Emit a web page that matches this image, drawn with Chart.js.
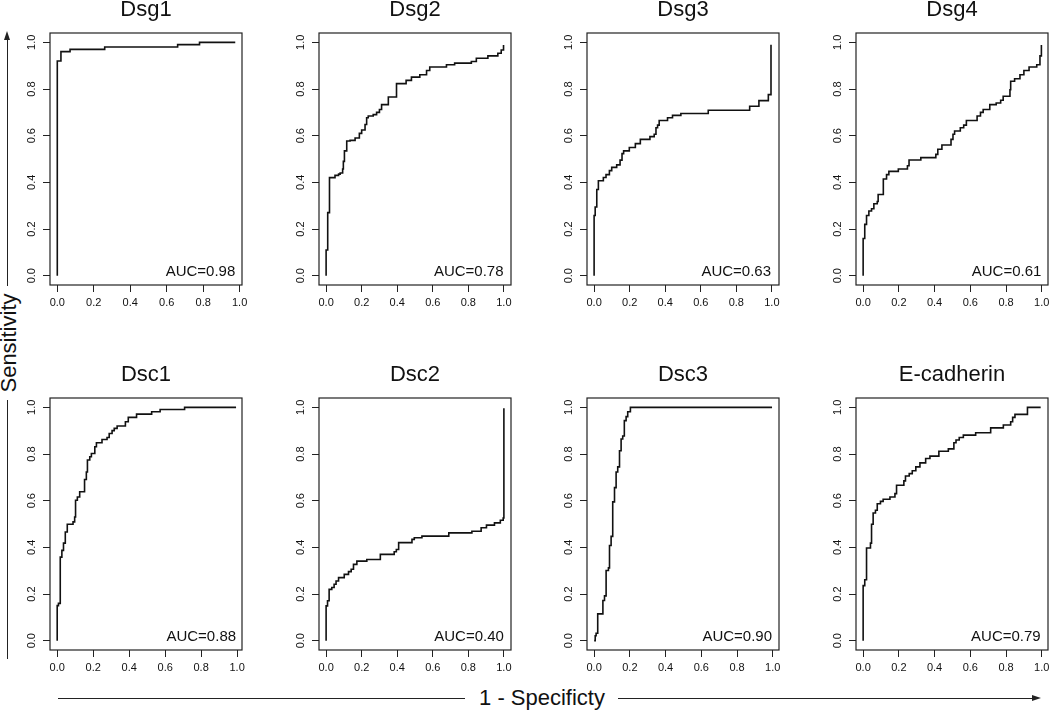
<!DOCTYPE html>
<html>
<head>
<meta charset="utf-8">
<script src="https://cdn.jsdelivr.net/npm/chart.js@4.4.1/dist/chart.umd.min.js"></script>
<style>
  body { margin: 0; background: #fff; }
  #page { position: relative; width: 1050px; height: 712px; overflow: hidden; font-family: "Liberation Sans", Arial, sans-serif; color: #111; }
  canvas.panel { position: absolute; }
  .rule { position: absolute; background: #222; }
  .head-up { position: absolute; width: 0; height: 0; border-left: 3.5px solid transparent; border-right: 3.5px solid transparent; border-bottom: 9px solid #222; }
  .head-right { position: absolute; width: 0; height: 0; border-top: 3.5px solid transparent; border-bottom: 3.5px solid transparent; border-left: 9px solid #222; }
  .outer-label { position: absolute; font-size: 22px; line-height: 1; white-space: nowrap; }
</style>
</head>
<body>
<div id="page">
  <!-- outer axis labels -->
  <div class="head-up" style="left:4px; top:31px;"></div>
  <div class="rule" style="left:7px; top:38px; width:1px; height:248px;"></div>
  <div class="outer-label" style="left:9px; top:343px; transform: translate(-50%, -50%) rotate(-90deg);">Sensitivity</div>
  <div class="rule" style="left:7px; top:400px; width:1px; height:259px;"></div>

  <div class="rule" style="left:58px; top:698px; width:407px; height:1px;"></div>
  <div class="outer-label" style="left:542px; top:698px; transform: translate(-50%, -50%);">1 - Specificty</div>
  <div class="rule" style="left:618px; top:698px; width:416px; height:1px;"></div>
  <div class="head-right" style="left:1032px; top:695px;"></div>
</div>

<script>
// Titres des panneaux et valeurs AUC
const panelTitles = ['Dsg1', 'Dsg2', 'Dsg3', 'Dsg4', 'Dsc1', 'Dsc2', 'Dsc3', 'E-cadherin'];
const aucLabels = ['AUC=0.98', 'AUC=0.78', 'AUC=0.63', 'AUC=0.61', 'AUC=0.88', 'AUC=0.40', 'AUC=0.90', 'AUC=0.79'];

// Graduations
const xTickValues = [0, 0.2, 0.4, 0.6, 0.8, 1.0];
const yTickValues = [0, 0.2, 0.4, 0.6, 0.8, 1.0];
const xAxisMax = [1.013, 1.04, 1.04, 1.035, 1.027, 1.04, 1.035, 1.035];

// Courbes ROC : 1 - spécificité (fpr) et sensibilité (tpr), sommets des marches
const dsg1Fpr = [0, 0, 0.02, 0.07, 0.26, 0.66, 0.78, 0.976];
const dsg1Tpr = [0, 0.92, 0.96, 0.97, 0.98, 0.99, 1.0, 1.0];

const dsg2Fpr = [0, 0, 0.009, 0.019, 0.05, 0.07, 0.079, 0.093, 0.097, 0.103, 0.116, 0.135, 0.163, 0.187, 0.2, 0.219, 0.228, 0.237, 0.265, 0.284, 0.3, 0.312, 0.35, 0.396, 0.45, 0.48, 0.527, 0.565, 0.583, 0.677, 0.723, 0.817, 0.845, 0.91, 0.966, 0.985, 0.998];
const dsg2Tpr = [0, 0.11, 0.27, 0.42, 0.43, 0.435, 0.44, 0.457, 0.49, 0.535, 0.577, 0.58, 0.59, 0.61, 0.624, 0.648, 0.677, 0.684, 0.69, 0.7, 0.712, 0.733, 0.766, 0.823, 0.837, 0.851, 0.861, 0.879, 0.894, 0.904, 0.911, 0.918, 0.932, 0.942, 0.953, 0.967, 0.989];

const dsg3Fpr = [0, 0, 0.006, 0.015, 0.024, 0.052, 0.067, 0.086, 0.099, 0.127, 0.146, 0.157, 0.166, 0.198, 0.232, 0.26, 0.314, 0.338, 0.348, 0.357, 0.366, 0.413, 0.441, 0.488, 0.642, 0.875, 0.927, 0.98, 0.995];
const dsg3Tpr = [0, 0.258, 0.294, 0.369, 0.407, 0.421, 0.433, 0.45, 0.464, 0.475, 0.495, 0.523, 0.535, 0.549, 0.566, 0.584, 0.596, 0.606, 0.634, 0.645, 0.665, 0.677, 0.687, 0.695, 0.709, 0.726, 0.75, 0.776, 0.99];

const dsg4Fpr = [0, 0, 0.009, 0.019, 0.032, 0.047, 0.06, 0.079, 0.084, 0.113, 0.131, 0.144, 0.197, 0.248, 0.257, 0.323, 0.407, 0.418, 0.441, 0.492, 0.503, 0.512, 0.544, 0.563, 0.578, 0.638, 0.657, 0.672, 0.709, 0.745, 0.77, 0.784, 0.822, 0.826, 0.848, 0.878, 0.9, 0.929, 0.972, 0.99, 0.998];
const dsg4Tpr = [0, 0.159, 0.22, 0.258, 0.277, 0.287, 0.308, 0.318, 0.348, 0.414, 0.433, 0.447, 0.457, 0.471, 0.496, 0.506, 0.52, 0.542, 0.56, 0.584, 0.606, 0.62, 0.634, 0.645, 0.665, 0.684, 0.7, 0.712, 0.733, 0.74, 0.752, 0.769, 0.797, 0.833, 0.844, 0.861, 0.879, 0.894, 0.904, 0.942, 0.989];

const dsc1Fpr = [0, 0, 0.007, 0.017, 0.026, 0.035, 0.045, 0.056, 0.088, 0.097, 0.102, 0.112, 0.125, 0.152, 0.162, 0.168, 0.181, 0.19, 0.209, 0.218, 0.249, 0.277, 0.289, 0.305, 0.317, 0.333, 0.379, 0.395, 0.441, 0.525, 0.572, 0.708, 0.994];
const dsc1Tpr = [0, 0.15, 0.16, 0.358, 0.387, 0.418, 0.466, 0.499, 0.509, 0.53, 0.602, 0.616, 0.638, 0.691, 0.723, 0.774, 0.788, 0.802, 0.831, 0.848, 0.862, 0.871, 0.888, 0.9, 0.91, 0.92, 0.938, 0.957, 0.971, 0.981, 0.991, 1.0, 1.0];

const dsc2Fpr = [0, 0, 0.008, 0.017, 0.032, 0.045, 0.056, 0.07, 0.102, 0.126, 0.141, 0.154, 0.173, 0.229, 0.305, 0.383, 0.395, 0.408, 0.483, 0.496, 0.539, 0.69, 0.82, 0.872, 0.902, 0.947, 0.98, 0.996, 1.0];
const dsc2Tpr = [0, 0.149, 0.171, 0.22, 0.228, 0.242, 0.256, 0.27, 0.284, 0.296, 0.306, 0.327, 0.341, 0.348, 0.37, 0.381, 0.391, 0.42, 0.434, 0.441, 0.448, 0.462, 0.469, 0.484, 0.495, 0.505, 0.516, 0.526, 0.996];

const dsc3Fpr = [0, 0.006, 0.011, 0.02, 0.049, 0.058, 0.067, 0.08, 0.086, 0.095, 0.104, 0.114, 0.123, 0.132, 0.142, 0.151, 0.16, 0.169, 0.179, 0.188, 0.203, 0.996];
const dsc3Tpr = [0, 0.021, 0.032, 0.115, 0.172, 0.192, 0.301, 0.312, 0.408, 0.447, 0.595, 0.656, 0.723, 0.745, 0.814, 0.864, 0.877, 0.943, 0.96, 0.981, 1.0, 1.0];

const ecadFpr = [0, 0, 0.009, 0.019, 0.041, 0.047, 0.056, 0.069, 0.079, 0.097, 0.112, 0.15, 0.178, 0.187, 0.228, 0.237, 0.258, 0.275, 0.295, 0.318, 0.35, 0.374, 0.424, 0.477, 0.508, 0.52, 0.538, 0.561, 0.63, 0.714, 0.785, 0.826, 0.837, 0.85, 0.92, 0.994];
const ecadTpr = [0, 0.236, 0.261, 0.397, 0.418, 0.499, 0.547, 0.559, 0.587, 0.597, 0.606, 0.616, 0.63, 0.666, 0.685, 0.706, 0.716, 0.728, 0.745, 0.762, 0.781, 0.791, 0.812, 0.822, 0.848, 0.86, 0.871, 0.881, 0.891, 0.912, 0.924, 0.938, 0.957, 0.97, 1.0, 1.0];

const fprSeries = [dsg1Fpr, dsg2Fpr, dsg3Fpr, dsg4Fpr, dsc1Fpr, dsc2Fpr, dsc3Fpr, ecadFpr];
const tprSeries = [dsg1Tpr, dsg2Tpr, dsg3Tpr, dsg4Tpr, dsc1Tpr, dsc2Tpr, dsc3Tpr, ecadTpr];

// Mise en page (boîtes des panneaux, en px)
const colLeft = [50, 319, 587, 856];
const rowTop = [33, 398];
const boxW = 192, boxH = 252;
const padLeft = 45, padRight = 12, padTop = 40, padBottom = 30;
const FONT = '"Liberation Sans", Arial, sans-serif';

// Cadre, étiquettes Y verticales et texte AUC (comme plot() de R)
const panelDecor = {
    id: 'panelDecor',
    afterDraw(chart, args, opts) {
        const { ctx, chartArea: a, scales: { x, y } } = chart;
        ctx.save();
        ctx.strokeStyle = '#222';
        ctx.lineWidth = 1.2;
        ctx.strokeRect(a.left, a.top, a.right - a.left, a.bottom - a.top);

        ctx.fillStyle = '#111';
        ctx.font = '11px ' + FONT;
        ctx.textAlign = 'center';
        ctx.textBaseline = 'middle';
        yTickValues.forEach(v => {
            ctx.save();
            ctx.translate(a.left - 18.5, y.getPixelForValue(v));
            ctx.rotate(-Math.PI / 2);
            ctx.fillText(v.toFixed(1), 0, 0);
            ctx.restore();
        });

        ctx.font = '15px ' + FONT;
        ctx.textAlign = 'right';
        ctx.textBaseline = 'alphabetic';
        ctx.fillText(opts.auc, x.getPixelForValue(opts.aucX), y.getPixelForValue(0));
        ctx.restore();
    }
};

const page = document.getElementById('page');

panelTitles.forEach((title, i) => {
    const col = i % 4, row = Math.floor(i / 4);
    const canvas = document.createElement('canvas');
    canvas.className = 'panel';
    canvas.width = boxW + padLeft + padRight;
    canvas.height = boxH + padTop + padBottom;
    canvas.style.left = (colLeft[col] - padLeft) + 'px';
    canvas.style.top = (rowTop[row] - padTop) + 'px';
    page.appendChild(canvas);

    const fpr = fprSeries[i], tpr = tprSeries[i];
    const points = fpr.map((v, k) => ({ x: v, y: tpr[k] }));

    const gridOpts = { drawOnChartArea: false, drawTicks: true, tickLength: 7, color: '#222', lineWidth: 1 };

    new Chart(canvas.getContext('2d'), {
        type: 'scatter',
        data: {
            datasets: [{
                data: points,
                showLine: true,
                stepped: true,
                borderColor: '#111',
                borderWidth: 1.6,
                pointRadius: 0,
                fill: false
            }]
        },
        options: {
            responsive: false,
            animation: false,
            events: [],
            layout: { padding: { left: 0, right: padRight, top: 4, bottom: 0 } },
            plugins: {
                legend: { display: false },
                tooltip: { enabled: false },
                title: {
                    display: true,
                    text: title,
                    fullSize: false,
                    color: '#111',
                    font: { size: 22, family: FONT, weight: 'normal' },
                    padding: { top: 0, bottom: 9.6 }
                },
                panelDecor: { auc: aucLabels[i], aucX: fpr[fpr.length - 1] }
            },
            scales: {
                x: {
                    type: 'linear',
                    min: -0.04,
                    max: xAxisMax[i],
                    afterBuildTicks: s => { s.ticks = xTickValues.map(v => ({ value: v })); },
                    afterFit: s => { s.height = padBottom; },
                    grid: gridOpts,
                    border: { display: false },
                    ticks: {
                        color: '#111',
                        font: { size: 11, family: FONT },
                        padding: 4,
                        maxRotation: 0,
                        callback: v => Number(v).toFixed(1)
                    }
                },
                y: {
                    type: 'linear',
                    min: -0.04,
                    max: 1.04,
                    afterBuildTicks: s => { s.ticks = yTickValues.map(v => ({ value: v })); },
                    afterFit: s => { s.width = padLeft; },
                    grid: gridOpts,
                    border: { display: false },
                    ticks: { display: false }
                }
            }
        },
        plugins: [panelDecor]
    });
});
</script>
</body>
</html>
